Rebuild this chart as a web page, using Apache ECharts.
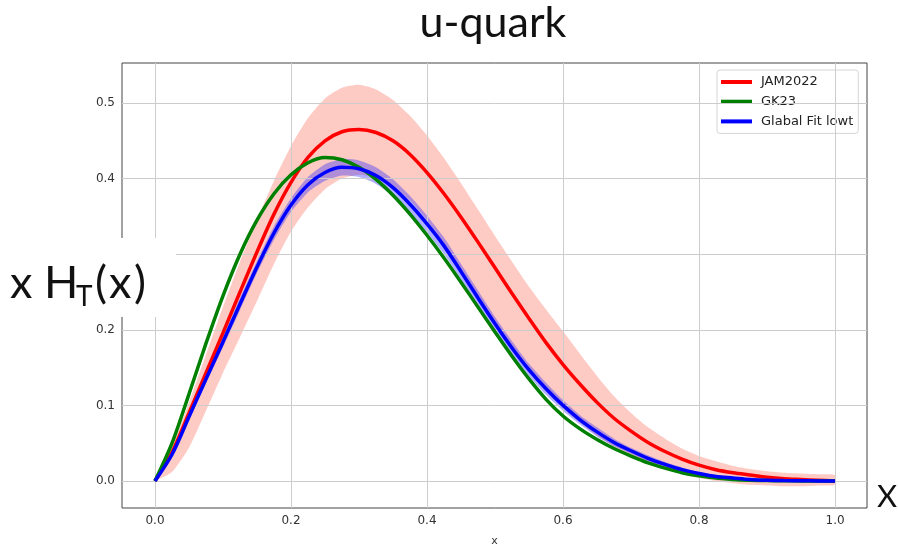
<!DOCTYPE html>
<html>
<head>
<meta charset="utf-8">
<script src="https://cdn.jsdelivr.net/npm/echarts@6/dist/echarts.min.js"></script>
<style>
  html, body { margin: 0; padding: 0; background: #fff; }
  #chart { width: 898px; height: 549px; }
</style>
</head>
<body>
<div id="chart"></div>
<script>
// x grid shared by all curves (step 0.025)
const xs = [0, 0.025, 0.05, 0.075, 0.1, 0.125, 0.15, 0.175, 0.2, 0.225, 0.25, 0.275, 0.3, 0.325, 0.35, 0.375, 0.4, 0.425, 0.45, 0.475, 0.5, 0.525, 0.55, 0.575, 0.6, 0.625, 0.65, 0.675, 0.7, 0.725, 0.75, 0.775, 0.8, 0.825, 0.85, 0.875, 0.9, 0.925, 0.95, 0.975, 1.0];

// JAM2022 central curve
const jam = [0, 0.038, 0.090, 0.143, 0.196, 0.250, 0.303, 0.353, 0.395, 0.428, 0.450, 0.462, 0.465, 0.461, 0.450, 0.432, 0.408, 0.380, 0.349, 0.316, 0.282, 0.248, 0.215, 0.183, 0.154, 0.128, 0.104, 0.083, 0.066, 0.051, 0.039, 0.029, 0.021, 0.015, 0.011, 0.008, 0.005, 0.003, 0.002, 0.001, 0.0];
// JAM2022 uncertainty band edges
const jamUpper = [0, 0.046, 0.104, 0.167, 0.230, 0.290, 0.345, 0.397, 0.443, 0.480, 0.506, 0.520, 0.524, 0.518, 0.504, 0.483, 0.457, 0.427, 0.394, 0.359, 0.324, 0.290, 0.257, 0.227, 0.198, 0.168, 0.139, 0.112, 0.090, 0.071, 0.056, 0.043, 0.033, 0.026, 0.020, 0.016, 0.013, 0.011, 0.010, 0.009, 0.008];
const jamLower = [0, 0.012, 0.044, 0.093, 0.143, 0.190, 0.238, 0.287, 0.330, 0.362, 0.386, 0.400, 0.405, 0.401, 0.390, 0.371, 0.345, 0.313, 0.279, 0.244, 0.209, 0.176, 0.146, 0.120, 0.097, 0.077, 0.060, 0.046, 0.034, 0.024, 0.016, 0.009, 0.004, 0.000, -0.003, -0.005, -0.006, -0.007, -0.007, -0.006, -0.005];

// GK23 curve
const gk23 = [0, 0.050, 0.115, 0.182, 0.245, 0.300, 0.345, 0.380, 0.405, 0.421, 0.428, 0.425, 0.415, 0.399, 0.378, 0.353, 0.325, 0.295, 0.263, 0.230, 0.197, 0.165, 0.135, 0.108, 0.086, 0.069, 0.055, 0.043, 0.033, 0.024, 0.017, 0.011, 0.007, 0.004, 0.002, 0.001, 0.0006, 0.0003, 0.0001, 0, 0];

// Global fit curve and the half-width of its band
const globalFit = [0, 0.035, 0.085, 0.135, 0.184, 0.234, 0.283, 0.328, 0.365, 0.392, 0.408, 0.415, 0.413, 0.404, 0.388, 0.366, 0.340, 0.311, 0.277, 0.242, 0.208, 0.176, 0.147, 0.122, 0.100, 0.081, 0.065, 0.051, 0.040, 0.030, 0.022, 0.015, 0.010, 0.006, 0.004, 0.002, 0.001, 0.0006, 0.0003, 0.0001, 0];
const globalErr = [0, 0.003, 0.005, 0.006, 0.007, 0.008, 0.008, 0.009, 0.009, 0.010, 0.011, 0.011, 0.011, 0.011, 0.011, 0.011, 0.011, 0.011, 0.010, 0.010, 0.009, 0.009, 0.008, 0.008, 0.007, 0.006, 0.006, 0.005, 0.004, 0.004, 0.003, 0.003, 0.002, 0.002, 0.001, 0.001, 0.001, 0.001, 0.001, 0.0005, 0];

// axis ticks
const xTicks = [0, 0.2, 0.4, 0.6, 0.8, 1.0];
const yTicks = [0, 0.1, 0.2, 0.3, 0.4, 0.5];

const seriesNames = ['JAM2022', 'GK23', 'Glabal Fit lowt'];

const pairs = (ys) => xs.map((x, i) => [x, ys[i]]);
const globalLow = globalFit.map((v, i) => v - globalErr[i]);
const globalHigh = globalFit.map((v, i) => v + globalErr[i]);

const tickFont = { fontFamily: 'DejaVu Sans', fontSize: 12, color: '#333' };

const chart = echarts.init(document.getElementById('chart'), null, { renderer: 'canvas' });

// filled region between two edges, drawn as one closed polygon
function band(lo, hi, color) {
  return {
    type: 'custom', coordinateSystem: 'cartesian2d', data: [[0, 0]],
    silent: true, z: 2, clip: true, animation: false,
    renderItem: function (params, api) {
      const top = xs.map((x, i) => api.coord([x, hi[i]]));
      const bottom = xs.map((x, i) => api.coord([x, lo[i]])).reverse();
      return {
        type: 'polygon',
        shape: { points: top.concat(bottom), smooth: 0.2 },
        style: { fill: color, stroke: null }
      };
    }
  };
}

function curve(name, ys, color, z) {
  return {
    name: name, type: 'line', data: pairs(ys), symbol: 'none', showSymbol: false, smooth: 0.3,
    lineStyle: { width: 3.5, color: color }, itemStyle: { color: color },
    z: z, animation: false
  };
}

const option = {
  backgroundColor: '#fff',
  animation: false,
  grid: {
    left: 122, right: 31, top: 63, bottom: 41,
    outerBoundsMode: 'none',
    show: true, borderColor: '#444', borderWidth: 1, backgroundColor: 'transparent'
  },
  xAxis: {
    type: 'value', min: -0.0485, max: 1.047,
    axisLine: { show: false },
    splitLine: { show: false },
    axisTick: { show: true, customValues: xTicks, length: 4, lineStyle: { color: '#444' } },
    axisLabel: Object.assign({ customValues: xTicks, margin: 7, formatter: v => v.toFixed(1) }, tickFont),
    name: 'x', nameLocation: 'middle', nameGap: 28,
    nameTextStyle: { fontFamily: 'DejaVu Sans', fontSize: 11, color: '#333' }
  },
  yAxis: {
    type: 'value', min: -0.0357, max: 0.5529,
    axisLine: { show: false },
    splitLine: { show: false },
    axisTick: { show: true, customValues: yTicks, length: 4, lineStyle: { color: '#444' } },
    axisLabel: Object.assign({ customValues: yTicks, margin: 7, formatter: v => v.toFixed(1) }, tickFont)
  },
  legend: {
    data: seriesNames,
    orient: 'vertical', left: 717, top: 70,
    padding: [4, 5, 4, 4],
    icon: 'rect',
    itemWidth: 31, itemHeight: 4, itemGap: 3.7,
    backgroundColor: '#fff',
    borderColor: '#d5d5d5', borderWidth: 1, borderRadius: 3,
    textStyle: { fontFamily: 'DejaVu Sans', fontSize: 13, lineHeight: 16, color: '#222', padding: [0, 0, 0, 4] }
  },
  series: [
    // grid lines at the tick positions
    {
      type: 'line', data: [], silent: true, z: 1,
      markLine: {
        silent: true, symbol: ['none', 'none'], label: { show: false },
        lineStyle: { color: '#cccccc', width: 1, type: 'solid' },
        animation: false,
        data: xTicks.map(v => ({ xAxis: v })).concat(yTicks.map(v => ({ yAxis: v })))
      }
    },
    band(jamLower, jamUpper, 'rgba(250,128,114,0.42)'),
    band(globalLow, globalHigh, 'rgba(30,30,255,0.35)'),
    curve('JAM2022', jam, '#ff0000', 5),
    curve('GK23', gk23, '#008000', 6),
    curve('Glabal Fit lowt', globalFit, '#0000ff', 7)
  ],
  graphic: [
    { type: 'text', x: 493, y: 1.5, z: 100,
      style: { text: 'u-quark', font: '43px Lato', fill: '#111', align: 'center', verticalAlign: 'top' } },
    { type: 'rect', shape: { x: 0, y: 238, width: 176, height: 79 }, z: 100,
      style: { fill: '#fff' } },
    { type: 'text', x: 10, y: 283, z: 101,
      style: { text: 'x H', font: '45px Lato', fill: '#111', verticalAlign: 'middle' } },
    { type: 'text', x: 76, y: 297, z: 101,
      style: { text: 'T', font: '28px Lato', fill: '#111', verticalAlign: 'middle' } },
    { type: 'text', x: 95, y: 283, z: 101,
      style: { text: '(', font: '45px Lato', fill: '#111', verticalAlign: 'middle' } },
    { type: 'text', x: 109, y: 283, z: 101,
      style: { text: 'x', font: '45px Lato', fill: '#111', verticalAlign: 'middle' } },
    { type: 'text', x: 134, y: 283, z: 101,
      style: { text: ')', font: '45px Lato', fill: '#111', verticalAlign: 'middle' } },
    { type: 'text', x: 877, y: 497, z: 101,
      style: { text: 'X', font: '31px Lato', fill: '#111', verticalAlign: 'middle' } }
  ]
};

chart.setOption(option);
</script>
</body>
</html>
